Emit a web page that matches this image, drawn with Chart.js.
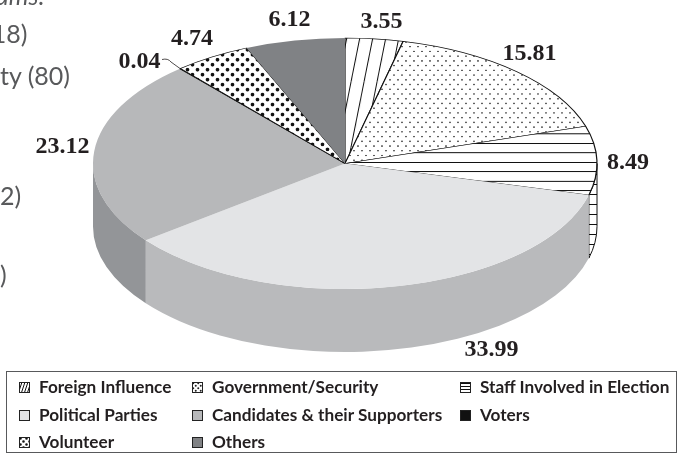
<!DOCTYPE html>
<html>
<head>
<meta charset="utf-8">
<script src="https://cdn.jsdelivr.net/npm/chart.js@4"></script>
<style>
html,body{margin:0;padding:0;background:#fff;overflow:hidden;width:683px;height:454px}
#wrap{position:relative;width:683px;height:454px;overflow:hidden}
canvas#c{position:absolute;left:0;top:0}
.frag{position:absolute;left:0;font:400 25px "Lato","Open Sans",sans-serif;color:#58595b;white-space:nowrap}
#legend{position:absolute;left:6px;top:371px;width:669px;height:80px;border:1.5px solid #58595b;box-sizing:content-box}
.item{position:absolute;font:700 17.2px "Lato",sans-serif;color:#231f20;white-space:nowrap;line-height:20px;height:20px}
.item canvas{position:absolute;left:-20px;top:5px}
</style>
</head>
<body>
<div id="wrap">
  <canvas id="c" width="683" height="454"></canvas>
  <div class="frag" style="left:-4px;top:-20px;font-style:italic">ams:</div>
  <div class="frag" style="left:-15px;top:18px">(18)</div>
  <div class="frag" style="left:0px;top:60px">ty (80)</div>
  <div class="frag" style="left:0px;top:180px">2)</div>
  <div class="frag" style="left:0px;top:259px">)</div>
  <div id="legend"></div>
</div>
<script>
const categories = ["Foreign Influence","Government/Security","Staff Involved in Election","Political Parties","Candidates & their Supporters","Voters","Volunteer","Others"];
const values = [3.55,15.81,8.49,33.99,23.12,0.04,4.74,6.12];
const valueLabels = ["3.55","15.81","8.49","33.99","23.12","0.04","4.74","6.12"];
const topStyles = ["slant","fineDots","lines","#e3e4e6","#b7b8ba","#111111","bigDots","#808285"];
const sideStyles = ["slant","fineDots","lines","#b9babc","#939598","#111111","bigDots","#808285"];
const borderWidths = [1.2,1.2,1.2,0,0,1.2,1.2,0];

const SQUASH = 0.498, DEPTH = 63;
const labelSpots = [[381.5,28],[529.5,60],[628,169],[491.5,356],[62.5,153],[139.5,68],[192,45],[289.5,26]];

function makePattern(name, sy, ctxRef, small){
  const tile = document.createElement('canvas');
  let w,h,draw;
  if(name==='slant'){ w=small?3:13; h=small?9:65;
    draw=g=>{g.strokeStyle='#111';g.lineWidth=1;g.beginPath();
      g.moveTo(w,0);g.lineTo(0,h);g.moveTo(w*2,0);g.lineTo(w,h);g.moveTo(0,0);g.lineTo(-w,h);g.stroke();};}
  if(name==='lines'){ w=10; h=small?3:9.5;
    draw=g=>{g.fillStyle='#111';g.fillRect(0,small?1:4,w,1);};}
  if(name==='fineDots'){ w=small?5:8; h=small?5:9.6;
    draw=g=>{g.fillStyle='#222';const r=small?1:0.8;
      g.beginPath();g.arc(w/4,h/4,r,0,7);g.closePath();g.arc(w*3/4,h*3/4,r,0,7);g.fill();};}
  if(name==='bigDots'){ w=small?6:10; h=small?6:10;
    draw=g=>{g.fillStyle='#111';const r=small?1.3:1.8;
      g.beginPath();g.arc(w/4,h/4,r,0,7);g.closePath();g.arc(w*3/4,h*3/4,r,0,7);g.fill();};}
  tile.width=Math.round(w);tile.height=Math.round(h*sy);
  const g=tile.getContext('2d');g.fillStyle='#fff';g.fillRect(0,0,tile.width,tile.height);
  g.scale(1,sy);draw(g);
  return ctxRef.createPattern(tile,'repeat');
}
function paint(style, sy, ctxRef, small){
  return style.startsWith('#') ? style : makePattern(style, sy, ctxRef, small);
}

const canvas=document.getElementById('c');
const ctx=canvas.getContext('2d');
const topFills=topStyles.map(s=>paint(s,1/SQUASH,ctx,false));
const sideFills=sideStyles.map(s=>paint(s,1,ctx,false));

const pie3d={
  id:'pie3d',
  beforeDatasetsDraw(chart){
    const c=chart.ctx, arcs=chart.getDatasetMeta(0).data;
    arcs.forEach((a,i)=>{
      const s=Math.max(a.startAngle,0), e=Math.min(a.endAngle,Math.PI);
      if(e<=s) return;
      const rx=a.outerRadius, ry=rx*SQUASH;
      c.save();
      c.beginPath();
      c.ellipse(a.x,a.y,rx,ry,0,s,e);
      c.ellipse(a.x,a.y+DEPTH,rx,ry,0,e,s,true);
      c.closePath();
      c.fillStyle=sideFills[i];
      c.fill();
      if(borderWidths[i]>0){c.strokeStyle='#111';c.lineWidth=1;c.stroke();}
      c.restore();
    });
    const a0=arcs[0];
    c.save();
    c.translate(0,a0.y);c.scale(1,SQUASH);c.translate(0,-a0.y);
  },
  afterDatasetsDraw(chart){
    const c=chart.ctx;
    c.restore();
    const arcs=chart.getDatasetMeta(0).data;
    c.save();
    c.fillStyle='#231f20';
    c.font='bold 24px "Liberation Serif",serif';
    c.textAlign='center';c.textBaseline='alphabetic';
    valueLabels.forEach((t,i)=>c.fillText(t,labelSpots[i][0],labelSpots[i][1]));
    const v=arcs[5], mid=(v.startAngle+v.endAngle)/2;
    const ex=v.x+v.outerRadius*Math.cos(mid), ey=v.y+v.outerRadius*SQUASH*Math.sin(mid);
    c.strokeStyle='#231f20';c.lineWidth=0.8;
    c.beginPath();c.moveTo(162,59.5);c.quadraticCurveTo(168,58,171,62);c.lineTo(ex,ey);c.stroke();
    c.restore();
  }
};

new Chart(ctx,{
  type:'pie',
  data:{labels:categories,datasets:[{
    data:values,
    backgroundColor:topFills,
    borderColor:'#111',
    borderWidth:borderWidths,
    clip:false,
    radius:252,
    hoverOffset:0
  }]},
  options:{
    responsive:false,
    animation:false,
    events:[],
    layout:{padding:{left:7,right:0,top:0,bottom:127}},
    plugins:{legend:{display:false},tooltip:{enabled:false}}
  },
  plugins:[pie3d]
});

const legendX=[32,205,473], legendY=[5,33,60];
const legend=document.getElementById('legend');
categories.forEach((name,i)=>{
  const d=document.createElement('div');
  d.className='item';
  d.style.left=legendX[i%3]+'px';
  d.style.top=legendY[Math.floor(i/3)]+'px';
  d.textContent=name;
  const sw=document.createElement('canvas');
  sw.width=11;sw.height=11;
  const g=sw.getContext('2d');
  g.fillStyle=paint(topStyles[i],1,g,true);
  g.fillRect(0,0,11,11);
  g.strokeStyle='#222';g.strokeRect(.5,.5,10,10);
  d.appendChild(sw);
  legend.appendChild(d);
});
</script>
</body>
</html>
